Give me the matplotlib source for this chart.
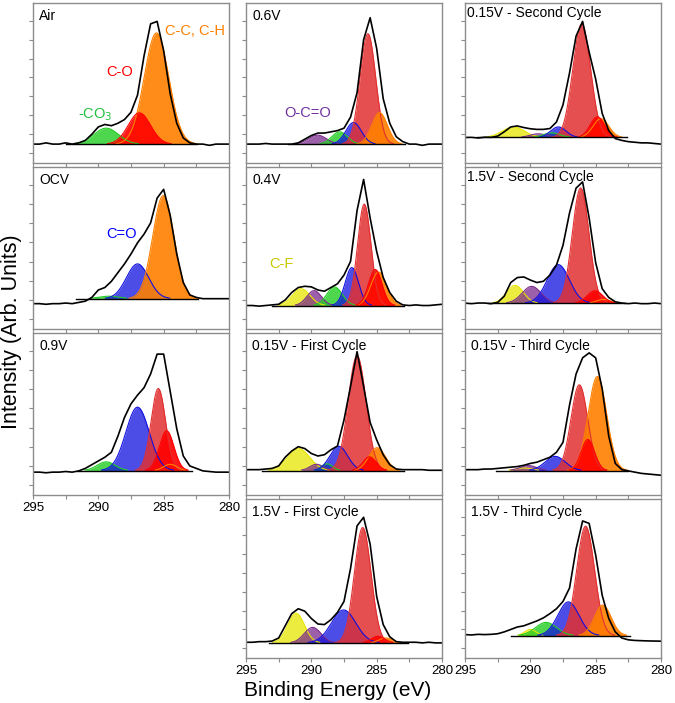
import numpy as np
import matplotlib
matplotlib.use('Agg')
import matplotlib.pyplot as plt

plt.rcParams['font.family'] = ['Liberation Sans', 'DejaVu Sans']

# binding energy grid of the read-off spectra (eV), high -> low
energy = np.arange(295.0, 279.9, -0.5)

# measured C 1s spectra (normalised intensity), read at 0.5 eV steps
spec_air = [0, 0, 0.01, 0, 0, 0.01, 0, 0.01, 0.03, 0.08, 0.14, 0.16, 0.15, 0.17, 0.2, 0.26,
            0.4, 0.72, 0.98, 1.0, 0.76, 0.41, 0.17, 0.05, 0.01, 0, 0, -0.01, 0, 0, 0]
spec_ocv = [0.05, 0.05, 0.045, 0.05, 0.05, 0.055, 0.05, 0.06, 0.07, 0.1, 0.16, 0.18, 0.23, 0.3, 0.37, 0.45,
            0.54, 0.61, 0.7, 0.9, 0.97, 0.76, 0.45, 0.22, 0.12, 0.1, 0.09, 0.09, 0.09, 0.09, 0.09]
spec_09 = [0.03, 0.03, 0.025, 0.03, 0.03, 0.035, 0.03, 0.04, 0.06, 0.09, 0.12, 0.15, 0.19, 0.32, 0.47, 0.58,
           0.65, 0.71, 0.82, 0.98, 0.98, 0.68, 0.38, 0.16, 0.08, 0.06, 0.04, 0.035, 0.03, 0.03, 0.03]
spec_06 = [0, 0, 0, 0.005, 0, 0, 0, 0, 0.01, 0.04, 0.07, 0.09, 0.09, 0.1, 0.11, 0.13,
           0.22, 0.42, 0.85, 1.03, 0.78, 0.37, 0.17, 0.06, 0.02, 0, 0, -0.01, 0, 0, 0]
spec_04 = [0.035, 0.035, 0.03, 0.035, 0.04, 0.045, 0.08, 0.14, 0.18, 0.19, 0.185, 0.16, 0.15, 0.18, 0.21, 0.28,
           0.39, 0.8, 1.05, 0.74, 0.47, 0.26, 0.14, 0.07, 0.04, 0.035, 0.04, 0.035, 0.035, 0.04, 0.045]
spec_015_1 = [0.05, 0.05, 0.05, 0.055, 0.06, 0.08, 0.15, 0.2, 0.235, 0.22, 0.18, 0.16, 0.17, 0.21, 0.24, 0.45,
              0.72, 1.0, 0.72, 0.43, 0.29, 0.17, 0.09, 0.055, 0.05, 0.05, 0.05, 0.05, 0.045, 0.045, 0.045]
spec_15_1 = [-0.025, -0.025, -0.02, -0.02, -0.015, 0.01, 0.11, 0.21, 0.25, 0.23, 0.17, 0.125, 0.12, 0.16, 0.22, 0.31,
             0.58, 0.93, 1.0, 0.78, 0.35, 0.12, 0.02, -0.02, -0.025, -0.025, -0.025, -0.03, -0.025, -0.03, -0.03]
spec_015_2 = [0.054, 0.055, 0.05, 0.056, 0.055, 0.065, 0.1, 0.14, 0.148, 0.135, 0.125, 0.12, 0.12, 0.127, 0.18, 0.32,
              0.58, 0.88, 1.0, 0.75, 0.53, 0.25, 0.11, 0.045, 0.03, 0.02, 0.015, 0.01, 0.01, 0.005, 0.0]
spec_15_2 = [0.054, 0.05, 0.055, 0.055, 0.05, 0.06, 0.11, 0.22, 0.26, 0.265, 0.24, 0.22, 0.23, 0.28, 0.36, 0.52,
             0.78, 0.98, 1.03, 0.74, 0.38, 0.17, 0.1, 0.065, 0.055, 0.05, 0.055, 0.05, 0.05, 0.055, 0.05]
spec_015_3 = [0.05, 0.05, 0.05, 0.055, 0.055, 0.06, 0.065, 0.07, 0.075, 0.085, 0.1, 0.11, 0.13, 0.15, 0.19, 0.27,
              0.57, 0.82, 0.95, 0.99, 0.95, 0.7, 0.32, 0.1, 0.05, 0.04, 0.03, 0.02, 0.015, 0.01, 0.005]
spec_15_3 = [0.038, 0.035, 0.04, 0.038, 0.04, 0.045, 0.06, 0.08, 0.1, 0.11, 0.13, 0.15, 0.175, 0.21, 0.25, 0.31,
             0.42, 0.74, 0.97, 0.95, 0.69, 0.36, 0.17, 0.06, 0.01, -0.005, -0.01, -0.012, -0.014, -0.015, -0.016]

# fitted components: (species, centre eV, height, FWHM eV)
fit_air = [('CO3', 289.4, 0.13, 2.2), ('C-O', 286.86, 0.255, 2.0), ('C-C', 285.55, 0.906, 2.2)]
fit_ocv = [('CO3', 289.2, 0.02, 1.8), ('C=O', 287.0, 0.28, 2.0), ('C-C', 285.03, 0.83, 1.9)]
fit_09 = [('CO3', 289.4, 0.07, 1.6), ('C=O', 287.0, 0.51, 2.1), ('main', 285.41, 0.66, 1.3),
          ('C-C', 284.5, 0.05, 1.2), ('C-O', 284.77, 0.32, 1.3)]
fit_06 = [('OCO', 289.53, 0.073, 1.6), ('CO3', 287.84, 0.10, 1.4), ('C=O', 286.77, 0.176, 1.4),
          ('main', 285.67, 0.90, 1.4), ('C-C', 284.78, 0.257, 1.4)]
fit_04 = [('CF', 290.78, 0.135, 1.6), ('OCO', 289.79, 0.12, 1.3), ('CO3', 288.23, 0.149, 1.4),
          ('C=O', 286.9, 0.305, 1.2), ('main', 285.95, 0.816, 1.2), ('C-C', 284.85, 0.27, 1.4),
          ('C-O', 285.11, 0.29, 1.2)]
fit_015_1 = [('CF', 290.97, 0.176, 2.0), ('OCO', 289.6, 0.05, 1.2), ('CO3', 288.8, 0.054, 1.0),
             ('C=O', 287.9, 0.195, 1.6), ('main', 286.5, 0.924, 1.6), ('C-C', 284.97, 0.184, 1.5),
             ('C-O', 285.55, 0.11, 1.2)]
fit_15_1 = [('CF', 291.17, 0.243, 1.5), ('OCO', 289.9, 0.127, 1.5), ('C=O', 287.53, 0.27, 2.2),
            ('main', 286.07, 0.946, 1.5), ('C-C', 284.3, 0.04, 1.2), ('C-O', 284.9, 0.054, 1.2)]
fit_015_2 = [('CF', 291.3, 0.086, 2.0), ('OCO', 289.39, 0.03, 1.5), ('CO3', 288.37, 0.038, 1.5),
             ('C=O', 287.86, 0.086, 1.4), ('main', 286.07, 0.924, 1.6), ('C-C', 284.6, 0.154, 1.4),
             ('C-O', 284.87, 0.168, 1.3)]
fit_15_2 = [('CF', 291.17, 0.143, 1.5), ('OCO', 289.9, 0.135, 1.7), ('C=O', 287.86, 0.31, 2.0),
            ('main', 286.15, 0.927, 1.5), ('C-C', 284.4, 0.03, 1.2), ('C-O', 285.05, 0.10, 1.4)]
fit_015_3 = [('CF', 290.5, 0.02, 1.5), ('OCO', 290.15, 0.04, 1.5), ('C=O', 288.1, 0.114, 1.8),
             ('main', 286.25, 0.69, 1.5), ('C-C', 284.87, 0.757, 1.66), ('C-O', 285.6, 0.25, 1.2)]
fit_15_3 = [('CF', 290.0, 0.05, 1.0), ('CO3', 288.8, 0.108, 1.9), ('C=O', 287.09, 0.276, 1.9),
            ('main', 285.77, 0.897, 1.6), ('C-C', 284.46, 0.25, 1.5)]

titles = ['Air', 'OCV', '0.9V', '0.6V', '0.4V', '0.15V - First Cycle', '1.5V - First Cycle',
          '0.15V - Second Cycle', '1.5V - Second Cycle', '0.15V - Third Cycle', '1.5V - Third Cycle']
spectra = [spec_air, spec_ocv, spec_09, spec_06, spec_04, spec_015_1, spec_15_1,
           spec_015_2, spec_15_2, spec_015_3, spec_15_3]
fits = [fit_air, fit_ocv, fit_09, fit_06, fit_04, fit_015_1, fit_15_1,
        fit_015_2, fit_15_2, fit_015_3, fit_15_3]
backgrounds = [0.0, 0.09, 0.043, 0.0, 0.035, 0.043, -0.03, 0.054, 0.054, 0.043, 0.03]

# styling
colors = {'CF': '#e6e600', 'OCO': '#7b2a8c', 'CO3': '#22cc22', 'C=O': '#1010e0',
          'main': '#e23030', 'C-C': '#ff8000', 'C-O': '#ff0000'}
alphas = {'CF': 0.75, 'OCO': 0.75, 'CO3': 0.8, 'C=O': 0.75, 'main': 0.85, 'C-C': 0.9, 'C-O': 0.9}
draw_order = ['CF', 'OCO', 'CO3', 'C=O', 'main', 'C-C', 'C-O']

W, H = 675, 703
col_left = [33, 246, 465]
row_top = [3, 167, 333, 499]
row_h = [160, 162, 162, 159]
ax_w = 196
# (column, row) of each panel
slots = [(0, 0), (0, 1), (0, 2), (1, 0), (1, 1), (1, 2), (1, 3), (2, 0), (2, 1), (2, 2), (2, 3)]
bottom_panels = [2, 6, 10]
frame = '#8c8c8c'

fig = plt.figure(figsize=(W / 100, H / 100), dpi=100)
e_fine = np.linspace(295, 280, 751)

for i, (col, row) in enumerate(slots):
    rect = [col_left[col] / W, 1 - (row_top[row] + row_h[row]) / H, ax_w / W, row_h[row] / H]
    ax = fig.add_axes(rect)
    base = backgrounds[i]
    comps = sorted(fits[i], key=lambda c: draw_order.index(c[0]))
    e_hi, e_lo = 280, 295
    for name, cen, hgt, fw in comps:
        g = hgt * np.exp(-4 * np.log(2) * (e_fine - cen) ** 2 / fw ** 2)
        keep = g > 0.004
        ax.fill_between(e_fine, base, base + g, where=keep, color=colors[name],
                        alpha=alphas[name], lw=0)
        ax.plot(e_fine[keep], base + g[keep], color=colors[name], lw=0.8)
        e_hi = max(e_hi, cen + 1.4 * fw)
        e_lo = min(e_lo, cen - 1.4 * fw)
    # fit background under the components
    ax.plot([e_hi, e_lo], [base, base], color='black', lw=1.0)
    ax.plot(energy, spectra[i], color='black', lw=1.2)

    ax.set_xlim(295, 280)
    ax.set_ylim(-0.154, 1.15)
    ax.set_xticks([295, 290, 285, 280])
    ax.set_xticks([292.5, 287.5, 282.5], minor=True)
    ax.set_yticks(np.arange(-0.073, 1.1, 0.154))
    ax.set_yticklabels([])
    ax.tick_params(axis='both', which='both', direction='out', length=3, width=0.8,
                   color=frame, labelsize=9.5, pad=2)
    if i not in bottom_panels:
        ax.set_xticklabels([])
    for sp in ax.spines.values():
        sp.set_color(frame)
        sp.set_linewidth(1.0)

    dx = 0.012 if 'Second' in titles[i] else 0.032
    dy = 1 - 10 / row_h[row] if 'Second' in titles[i] else 1 - 13 / row_h[row]
    ax.text(dx, dy, titles[i], transform=ax.transAxes, fontsize=10, va='center', ha='left')

# component labels
fig.text(195 / W, 1 - 31 / H, 'C-C, C-H', color='#ff8000', fontsize=10.5, ha='center', va='center')
fig.text(120 / W, 1 - 72 / H, 'C-O', color='#ff0000', fontsize=10.5, ha='center', va='center')
fig.text(95 / W, 1 - 115 / H, '-CO$_3$', color='#22c040', fontsize=10.5, ha='center', va='center')
fig.text(122 / W, 1 - 234 / H, 'C=O', color='#0000ff', fontsize=10.5, ha='center', va='center')
fig.text(308 / W, 1 - 113 / H, 'O-C=O', color='#7030a0', fontsize=10.5, ha='center', va='center')
fig.text(281 / W, 1 - 264 / H, 'C-F', color='#c8c800', fontsize=10.5, ha='center', va='center')

fig.text(12 / W, 1 - 332 / H, 'Intensity (Arb. Units)', rotation=90, fontsize=15.5,
         ha='center', va='center')
fig.text(338 / W, 1 - 690 / H, 'Binding Energy (eV)', fontsize=15, ha='center', va='center')

fig.savefig('out.png', dpi=100)
